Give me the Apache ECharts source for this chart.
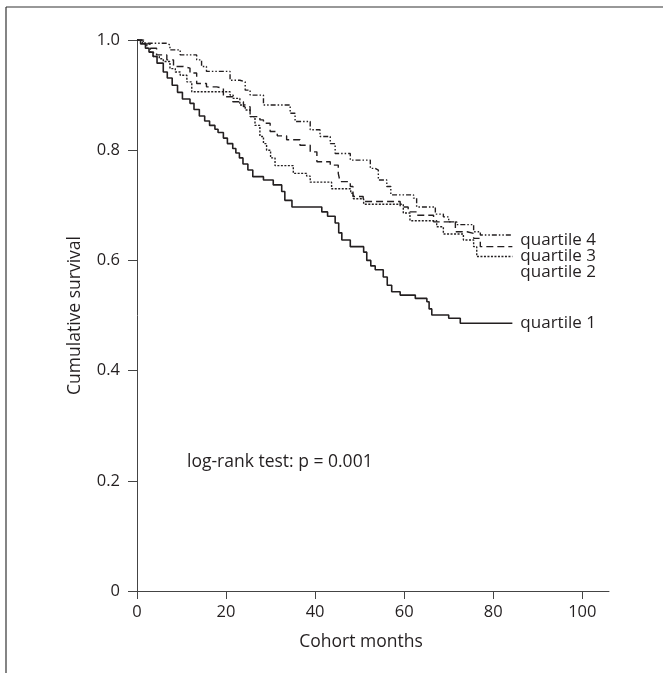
<!DOCTYPE html>
<html>
<head>
<meta charset="utf-8">
<title>Cumulative survival</title>
<script src="https://cdn.jsdelivr.net/npm/echarts@6/dist/echarts.min.js"></script>
<style>
  html, body { margin: 0; padding: 0; background: #fff; }
  #chart { width: 663px; height: 673px; }
</style>
</head>
<body>
<div id="chart"></div>
<script>
// 各四分位的生存曲线 (月份, 累计生存率)
var q1Months = [0, 0.8, 1.9, 2.7, 3.6, 4.5, 5.9, 6.8, 7.9, 9.1, 10.2, 11.9, 12.8, 14.0, 15.2, 16.3, 17.5, 18.2, 19.4, 20.3, 21.5, 22.2, 23.0, 23.8, 24.9, 26.0, 28.4, 30.6, 32.5, 33.2, 34.8, 41.5, 42.8, 44.5, 45.3, 46.0, 47.9, 50.9, 51.6, 52.5, 53.5, 55.3, 56.2, 57.2, 59.1, 62.5, 65.1, 65.6, 66.2, 70.0, 72.6, 84.3];
var q1Surv = [1.0, 0.993, 0.985, 0.978, 0.970, 0.958, 0.942, 0.931, 0.918, 0.905, 0.893, 0.885, 0.874, 0.862, 0.853, 0.845, 0.838, 0.832, 0.822, 0.812, 0.803, 0.795, 0.786, 0.775, 0.764, 0.752, 0.746, 0.737, 0.725, 0.709, 0.697, 0.688, 0.680, 0.668, 0.650, 0.637, 0.625, 0.615, 0.600, 0.590, 0.583, 0.570, 0.555, 0.543, 0.537, 0.531, 0.525, 0.512, 0.501, 0.495, 0.486, 0.486];

var q2Months = [0, 1.2, 2.2, 3.0, 3.7, 5.0, 5.9, 7.4, 8.6, 9.7, 11.2, 12.3, 20.9, 21.6, 23.1, 24.3, 25.4, 26.5, 27.6, 28.4, 29.1, 30.0, 31.0, 35.1, 38.1, 38.9, 43.7, 48.0, 48.6, 50.9, 59.8, 61.3, 67.3, 68.8, 73.3, 75.6, 76.3, 84.3];
var q2Surv = [1.0, 0.994, 0.985, 0.978, 0.970, 0.966, 0.961, 0.948, 0.942, 0.936, 0.924, 0.906, 0.900, 0.894, 0.882, 0.873, 0.861, 0.845, 0.825, 0.812, 0.800, 0.786, 0.772, 0.758, 0.753, 0.742, 0.730, 0.722, 0.712, 0.702, 0.686, 0.672, 0.661, 0.648, 0.637, 0.625, 0.607, 0.607];

var q3Months = [0, 1.5, 2.9, 4.4, 6.7, 8.2, 10.4, 11.9, 13.4, 15.6, 17.9, 19.4, 21.5, 23.9, 25.4, 27.6, 28.4, 29.9, 31.5, 33.6, 36.6, 38.9, 40.4, 43.4, 45.2, 45.6, 47.9, 48.5, 50.8, 59.1, 60.9, 62.8, 66.6, 71.5, 74.1, 75.6, 77.1, 84.3];
var q3Surv = [1.0, 0.993, 0.985, 0.973, 0.964, 0.952, 0.949, 0.940, 0.921, 0.915, 0.912, 0.897, 0.888, 0.879, 0.861, 0.855, 0.849, 0.834, 0.826, 0.819, 0.809, 0.797, 0.779, 0.773, 0.758, 0.743, 0.734, 0.716, 0.707, 0.697, 0.688, 0.682, 0.670, 0.652, 0.649, 0.640, 0.625, 0.625];

var q4Months = [0, 1.4, 6.7, 7.4, 9.7, 13.4, 14.5, 15.6, 20.9, 23.1, 24.3, 25.4, 28.4, 34.4, 35.5, 38.9, 41.1, 43.4, 44.5, 47.9, 52.4, 53.5, 54.2, 56.1, 57.0, 62.1, 62.8, 67.0, 68.8, 70.0, 71.8, 75.6, 77.1, 84.3];
var q4Surv = [1.0, 0.994, 0.991, 0.982, 0.973, 0.964, 0.952, 0.943, 0.927, 0.924, 0.909, 0.900, 0.882, 0.867, 0.852, 0.837, 0.825, 0.812, 0.794, 0.782, 0.767, 0.764, 0.746, 0.734, 0.719, 0.713, 0.697, 0.684, 0.679, 0.670, 0.665, 0.652, 0.646, 0.645];

// 坐标轴刻度
var xTicks = [0, 20, 40, 60, 80, 100];
var yTicks = [0, 0.2, 0.4, 0.6, 0.8, 1.0];

var ink = '#231f20';
var font = '"Open Sans", "Noto Sans", sans-serif';

function zip(t, s) {
  var out = [];
  for (var i = 0; i < t.length; i++) {
    out.push([t[i], s[i]]);
  }
  return out;
}

// 生存曲线系列
function kmSeries(name, months, surv, type, width, dy) {
  return {
    name: name,
    type: 'line',
    step: 'end',
    symbol: 'none',
    silent: true,
    data: zip(months, surv),
    lineStyle: { color: ink, width: width, type: type },
    endLabel: {
      show: true,
      formatter: '{a}',
      distance: 8,
      offset: [0, dy],
      color: ink,
      fontFamily: font,
      fontSize: 17
    }
  };
}

var chart = echarts.init(document.getElementById('chart'), null, { renderer: 'canvas' });

var option = {
  animation: false,
  backgroundColor: '#fff',
  grid: {
    left: 137,
    top: 40,
    right: 54,
    bottom: 82,
    containLabel: false
  },
  xAxis: {
    type: 'value',
    min: 0,
    max: 106,
    name: 'Cohort months',
    nameLocation: 'middle',
    nameGap: 42,
    nameTextStyle: { color: ink, fontFamily: font, fontSize: 17.5, padding: [0, 24, 0, 0] },
    axisLine: { lineStyle: { color: '#444', width: 1 } },
    axisTick: { length: 8, customValues: xTicks, lineStyle: { color: '#444' } },
    axisLabel: { customValues: xTicks, margin: 13, color: ink, fontFamily: font, fontSize: 16.5 },
    splitLine: { show: false }
  },
  yAxis: {
    type: 'value',
    min: 0,
    max: 1,
    interval: 0.2,
    name: 'Cumulative survival',
    nameLocation: 'middle',
    nameGap: 53,
    nameTextStyle: { color: ink, fontFamily: font, fontSize: 17.5 },
    axisLine: { show: true, lineStyle: { color: '#444', width: 1 } },
    axisTick: { show: true, length: 9, customValues: yTicks, lineStyle: { color: '#444' } },
    axisLabel: {
      customValues: yTicks,
      margin: 17,
      color: ink,
      fontFamily: font,
      fontSize: 16.5,
      formatter: function (v) {
        return v === 0 ? '0' : v.toFixed(1);
      }
    },
    splitLine: { show: false }
  },
  graphic: [
    // 外框 (只露出上边和左边)
    { type: 'line', shape: { x1: 6, y1: 7, x2: 663, y2: 7 }, style: { stroke: '#333', lineWidth: 1.2 } },
    { type: 'line', shape: { x1: 6, y1: 7, x2: 6, y2: 673 }, style: { stroke: '#333', lineWidth: 1.2 } },
    {
      type: 'text',
      left: 187,
      top: 453,
      style: { text: 'log-rank test: p = 0.001', fill: ink, font: '17.5px ' + font }
    }
  ],
  series: [
    kmSeries('quartile 1', q1Months, q1Surv, 'solid', 1.6, 0),
    kmSeries('quartile 2', q2Months, q2Surv, [2, 1.5], 1.4, 16),
    kmSeries('quartile 3', q3Months, q3Surv, [7, 4], 1.4, 10),
    kmSeries('quartile 4', q4Months, q4Surv, [5, 2, 1.5, 2, 1.5, 2], 1.4, 5)
  ]
};

chart.setOption(option);
</script>
</body>
</html>
